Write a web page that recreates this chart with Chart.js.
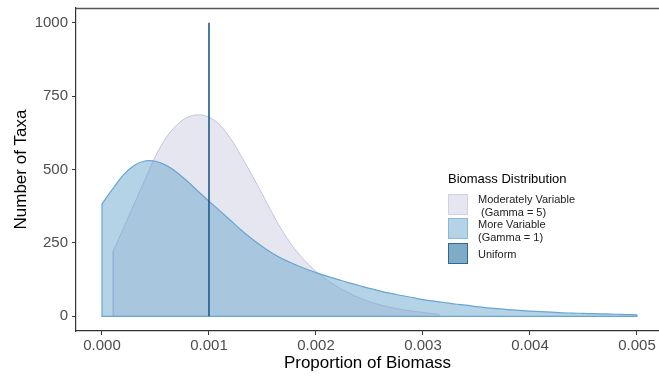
<!DOCTYPE html>
<html>
<head>
<meta charset="utf-8">
<script src="https://cdn.jsdelivr.net/npm/chart.js@4.4.1/dist/chart.umd.min.js"></script>
<style>
  body { margin: 0; background: #fff; }
  #wrap { position: relative; width: 659px; height: 376px; font-family: "Liberation Sans", Arial, sans-serif; }
  .legend-title { position: absolute; left: 448px; top: 171px; font-size: 13px; color: #000; white-space: nowrap; }
  .key { position: absolute; left: 448px; width: 20px; height: 21px; box-sizing: border-box; border: 1.2px solid; }
  .lab { position: absolute; left: 478px; font-size: 11px; line-height: 12.5px; color: #222; white-space: nowrap; }
</style>
</head>
<body>
<div id="wrap">
  <canvas id="densityChart" width="659" height="376"></canvas>
  <div class="legend-title">Biomass Distribution</div>
  <div class="key" style="top:194px; background:#e6e6f0; border-color:#d2d2e6;"></div>
  <div class="key" style="top:218px; background:#b5d3e6; border-color:#8ab9dc;"></div>
  <div class="key" style="top:243px; background:#80abc6; border-color:#2a6a96;"></div>
  <div class="lab" style="top:193px;">Moderately Variable<br>&nbsp;(Gamma = 5)</div>
  <div class="lab" style="top:218px;">More Variable<br>(Gamma = 1)</div>
  <div class="lab" style="top:248px;">Uniform</div>
</div>
<script>
// x positions for the "More Variable" density
const proportion = [
    0.0000, 0.0001, 0.0002, 0.0003, 0.0004, 0.0005, 0.0006, 0.0007, 0.0008, 0.0009,
    0.0010, 0.0011, 0.0012, 0.0013, 0.0014, 0.0015, 0.0016, 0.0017, 0.0018, 0.0019,
    0.0020, 0.0021, 0.0022, 0.0023, 0.0024, 0.0025, 0.0026, 0.0027, 0.0028, 0.0029,
    0.0030, 0.0031, 0.0032, 0.0033, 0.0034, 0.0035, 0.0036, 0.0037, 0.0038, 0.0039,
    0.0040, 0.0041, 0.0042, 0.0043, 0.0044, 0.0045, 0.0046, 0.0047, 0.0048, 0.0049,
    0.0050
];
const moreVariable = [
    383, 434, 482, 514, 529, 528, 514, 490, 459, 425,
    392, 360, 327, 294, 264, 237, 213, 193, 177, 162,
    149, 137, 126, 115, 105, 95, 86, 78, 71, 64,
    57, 52, 47, 42, 38, 33, 29, 26, 23, 20,
    18, 16, 14, 12, 11, 10, 9, 8, 7, 6,
    5
];

const moderateProportion = [
    0.000105, 0.0002, 0.0003, 0.0004, 0.0005, 0.0006, 0.0007, 0.0008, 0.0009,
    0.0010, 0.0011, 0.0012, 0.0013, 0.0014, 0.0015, 0.0016, 0.0017, 0.0018, 0.0019,
    0.0020, 0.0021, 0.0022, 0.0023, 0.0024, 0.0025, 0.0026, 0.0027, 0.0028, 0.0029,
    0.0030, 0.0031, 0.00315
];
const moderatelyVariable = [
    222, 300, 382, 464, 545, 608, 652, 678, 686,
    678, 652, 606, 546, 482, 415, 345, 283, 230, 188,
    153, 125, 101, 81, 64, 50, 39, 30, 23, 18,
    13, 9, 7
];

const uniformAt = [0.001, 0.001];
const uniform = [0, 1000];

const xTicks = [0, 0.001, 0.002, 0.003, 0.004, 0.005];
const yTicks = [0, 250, 500, 750, 1000];

function curve(xs, ys) {
    return xs.map(function (x, i) { return { x: x, y: ys[i] }; });
}

// left edge, baseline and right edge of a density outline
function edges(xs, ys) {
    const last = xs.length - 1;
    return [
        { x: xs[0], y: ys[0] },
        { x: xs[0], y: 0 },
        { x: xs[last], y: 0 },
        { x: xs[last], y: ys[last] },
    ];
}

const topBorder = {
    id: "topBorder",
    afterDraw: function (chart) {
        const ctx = chart.ctx;
        const area = chart.chartArea;
        ctx.save();
        ctx.strokeStyle = "#555";
        ctx.lineWidth = 1.3;
        ctx.beginPath();
        ctx.moveTo(area.left, area.top + 0.5);
        ctx.lineTo(area.right, area.top + 0.5);
        ctx.stroke();
        ctx.restore();
    },
};

const font = "'Liberation Sans', Arial, sans-serif";
const blueLine = "#68a6d2";
const lavenderLine = "rgba(190,190,222,0.9)";

new Chart(document.getElementById("densityChart"), {
    type: "line",
    data: {
        datasets: [
            {
                label: "Uniform",
                data: curve(uniformAt, uniform),
                borderColor: "#1d5b8b",
                borderWidth: 1.6,
                pointRadius: 0,
                fill: false,
            },
            {
                label: "More Variable edges",
                data: edges(proportion, moreVariable),
                borderColor: blueLine,
                borderWidth: 1.2,
                pointRadius: 0,
                tension: 0,
                fill: false,
            },
            {
                label: "More Variable (Gamma = 1)",
                data: curve(proportion, moreVariable),
                borderColor: blueLine,
                backgroundColor: "rgba(107,168,206,0.5)",
                borderWidth: 1.2,
                pointRadius: 0,
                tension: 0.4,
                fill: "origin",
            },
            {
                label: "Moderately Variable edges",
                data: edges(moderateProportion, moderatelyVariable),
                borderColor: lavenderLine,
                borderWidth: 1,
                pointRadius: 0,
                tension: 0,
                fill: false,
            },
            {
                label: "Moderately Variable (Gamma = 5)",
                data: curve(moderateProportion, moderatelyVariable),
                borderColor: lavenderLine,
                backgroundColor: "rgba(205,205,226,0.5)",
                borderWidth: 1,
                pointRadius: 0,
                tension: 0.4,
                fill: "origin",
            },
        ],
    },
    options: {
        responsive: false,
        animation: false,
        devicePixelRatio: 1,
        layout: {
            padding: { top: 8, left: 0, right: 0, bottom: 0 },
        },
        plugins: {
            legend: { display: false },
            tooltip: { enabled: false },
        },
        scales: {
            x: {
                type: "linear",
                min: -0.000243,
                max: 0.005206,
                afterBuildTicks: function (scale) {
                    scale.ticks = xTicks.map(function (v) { return { value: v }; });
                },
                afterFit: function (scale) {
                    scale.height = 45;
                    scale.paddingLeft = 0;
                    scale.paddingRight = 0;
                },
                ticks: {
                    color: "#4d4d4d",
                    font: { family: font, size: 15 },
                    padding: 2,
                    maxRotation: 0,
                    callback: function (v) { return Number(v).toFixed(3); },
                },
                grid: {
                    drawOnChartArea: false,
                    drawTicks: true,
                    tickLength: 4,
                    color: "#333",
                },
                border: { display: true, color: "#333", width: 1.2 },
                title: {
                    display: true,
                    text: "Proportion of Biomass",
                    color: "#000",
                    font: { family: font, size: 17 },
                    padding: { top: 0, bottom: 2 },
                },
            },
            y: {
                min: -50,
                max: 1050,
                afterBuildTicks: function (scale) {
                    scale.ticks = yTicks.map(function (v) { return { value: v }; });
                },
                afterFit: function (scale) {
                    scale.width = 76;
                    scale.paddingTop = 0;
                    scale.paddingBottom = 0;
                },
                ticks: {
                    color: "#4d4d4d",
                    font: { family: font, size: 15 },
                    padding: 4,
                    callback: function (v) { return String(v); },
                },
                grid: {
                    drawOnChartArea: false,
                    drawTicks: true,
                    tickLength: 4,
                    color: "#333",
                },
                border: { display: true, color: "#333", width: 1.2 },
                title: {
                    display: true,
                    text: "Number of Taxa",
                    color: "#000",
                    font: { family: font, size: 17 },
                    padding: { top: 11, bottom: 0 },
                },
            },
        },
    },
    plugins: [topBorder],
});
</script>
</body>
</html>
